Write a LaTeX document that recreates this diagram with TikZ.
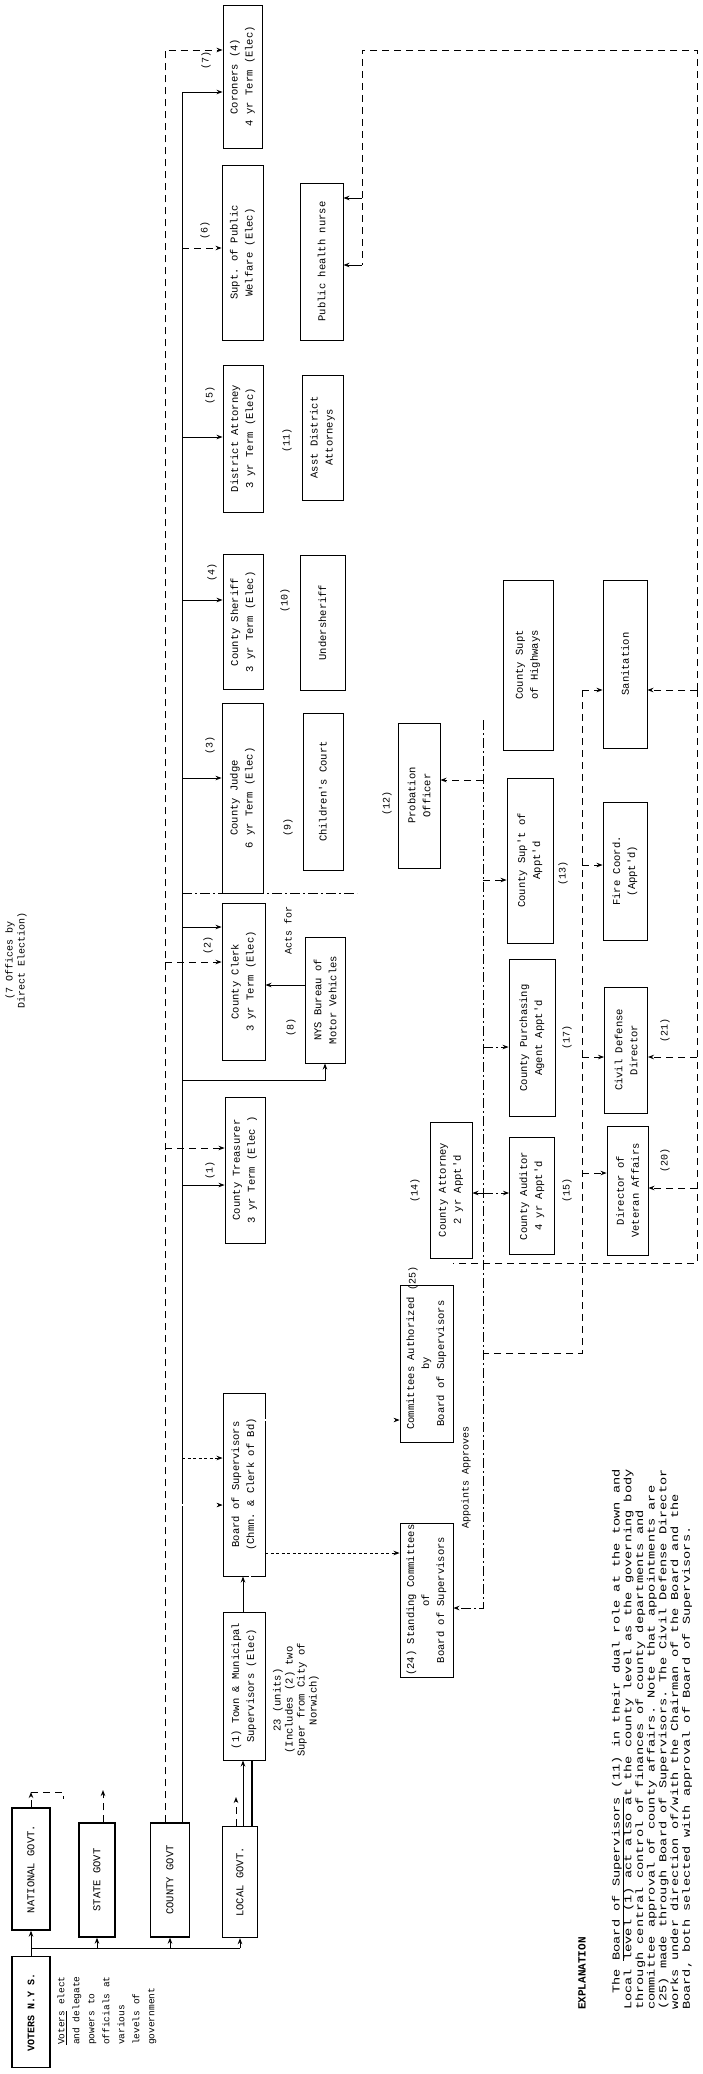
\documentclass[tikz,border=0pt]{standalone}
\usepackage{fontspec}
\setmonofont{Liberation Mono}
\usetikzlibrary{arrows.meta}
\newcommand\RC[3]{\rotatebox{90}{\vbox{\fontsize{#1}{#2}\selectfont\ttfamily\lineskiplimit=-30pt\halign{\hfil##\hfil\cr#3\crcr}}}}
\newcommand\RLf[3]{\rotatebox{90}{\vbox{\fontsize{#1}{#2}\selectfont\ttfamily\lineskiplimit=-30pt\halign{##\hfil\cr#3\crcr}}}}
\newcommand\RLs[4]{\rotatebox{90}{\scalebox{#1}[1]{\vbox{\fontsize{#2}{#3}\selectfont\ttfamily\lineskiplimit=-30pt\halign{##\hfil\cr#4\crcr}}}}}
\newcommand\hy[1]{\coordinate (y#1) at (0,#1);}
\begin{document}
\begin{tikzpicture}[x=1pt,y=-1pt,
 box/.style={draw, line width=0.9pt, inner sep=0pt},
 sz/.style 2 args={minimum width=#1, minimum height=#2},
 lab/.style={inner sep=0pt},
 arr/.style={-{Stealth[length=6pt,width=4.5pt]}},
 ln/.style={line width=0.9pt},
 dsh/.style={line width=0.9pt, dash pattern=on 7pt off 5pt},
 dd/.style={line width=0.9pt, dash pattern=on 10pt off 3pt on 2pt off 3pt},
 dot/.style={line width=1pt, dash pattern=on 3pt off 2.5pt},
 dbl/.style={double, double distance=1.6pt, line width=0.6pt}]
\useasboundingbox (0,0) rectangle (703,2074);
\fill[white] (0,0) rectangle (703,2074);
\foreach \v in {50,92,198,248,265,437,600,690,720,778,780,865,880,893,927,962,985,1047,1057,1080,1148,1173,1185,1188,1193,1263,1353,1420,1458,1505,1553,1608,1948}{\hy{\v}}
\coordinate (L1) at (165,0);
\coordinate (L2) at (182,0);
\coordinate (N1) at (362,0);
\coordinate (M1) at (483,0);
\coordinate (M2) at (582,0);
\coordinate (R1) at (697,0);

% ---- levels of government
\node[box, line width=1.5pt, sz={38}{111}] (voters) at (31,2012) {\RC{10}{12}{\bfseries VOTERS N.Y S.}};
\node[box, line width=1.3pt, sz={38}{122}] (national) at (31,1869) {\RC{10.5}{12}{NATIONAL GOVT.}};
\node[box, line width=1.3pt, sz={36}{114}] (state) at (97,1880) {\RC{10.5}{12}{STATE GOVT}};
\node[box, line width=1.3pt, sz={39}{114}] (county) at (170,1880) {\RC{10.5}{12}{COUNTY GOVT}};
\node[box, line width=1.3pt, sz={35}{111}] (local) at (240,1882) {\RC{10.5}{12}{LOCAL GOVT.}};
\node[lab, anchor=south] (vtext) at (107,2045) {\RLf{9.5}{15}{\underline{Voters} elect\cr and delegate\cr powers to\cr officials at\cr various\cr levels of\cr government}};
\draw[ln] (voters.north) -- (voters.north |- y1948) -- (local.south |- y1948);
\foreach \n in {national,state,county,local}{\draw[ln,arr] (\n.south |- y1948) -- (\n.south);}
\coordinate (natup) at (31,1792);
\coordinate (natr) at (63,1792);
\coordinate (natr2) at (63,1799);
\draw[dsh,arr] (national.north) -- (natup);
\draw[dsh] (natup) -- (natr) -- (natr2);
\coordinate (stup) at (103,1790);
\draw[dsh,arr] ([xshift=6pt]state.north) -- (stup);
\coordinate (locup) at (236,1797);
\draw[dsh,arr] ([xshift=-4pt]local.north) -- (locup);

% ---- town and board
\node[box, sz={42}{148}] (town) at (244,1686) {\RC{10.5}{15}{(1) Town \& Municipal\cr Supervisors (Elec)}};
\node[lab] (units) at (296,1700) {\RC{10.5}{12}{23 (units)\cr (Includes (2) two\cr Super from City of\cr Norwich)}};
\node[box, sz={42}{183}] (board) at (244,1484.5) {\RC{10.5}{15}{Board of Supervisors\cr (Chmn. \& Clerk of Bd)}};
\draw[ln,arr] ([xshift=3pt]local.north) -- ([xshift=3pt]local.north |- town.south);
\draw[line width=2.2pt] ([xshift=12pt]local.north) -- ([xshift=12pt]local.north |- town.south);
\draw[ln,arr] ([xshift=-1pt]town.north) -- ([xshift=-1pt]town.north |- board.south);
\draw[dbl] ([xshift=6pt]town.north) -- ([xshift=6pt]town.north |- board.south);

% ---- directly elected offices
\node[box, sz={39}{143}] (e1) at (242.5,76.5) {\RC{10.5}{15}{Coroners (4)\cr 4 yr Term (Elec)}};
\node[box, sz={41}{175}] (e2) at (242.5,252.5) {\RC{10.5}{15}{Supt. of Public\cr Welfare (Elec)}};
\node[box, sz={40}{147}] (e3) at (243,438.5) {\RC{10.5}{15}{District Attorney\cr 3 yr Term (Elec)}};
\node[box, sz={40}{135}] (e4) at (243,622) {\RC{10.5}{15}{County Sheriff\cr 3 yr Term (Elec)}};
\node[box, sz={41}{190}] (e5) at (242.5,798) {\RC{10.5}{15}{County Judge\cr 6 yr Term (Elec)}};
\node[box, sz={43}{157}] (e6) at (243.5,981.5) {\RC{10.5}{15}{County Clerk\cr 3 yr Term (Elec)}};
\node[box, sz={40}{146}] (e7) at (245,1170) {\RC{10.5}{15}{County Treasurer\cr 3 yr Term (Elec )}};
\node[lab] (le1) at (206,60) {\RC{10}{12}{(7)}};
\node[lab] (le2) at (205,230) {\RC{10}{12}{(6)}};
\node[lab] (le3) at (210,395) {\RC{10}{12}{(5)}};
\node[lab] (le4) at (212,572) {\RC{10}{12}{(4)}};
\node[lab] (le5) at (210,745) {\RC{10}{12}{(3)}};
\node[lab] (le6) at (208,945) {\RC{10}{12}{(2)}};
\node[lab] (le7) at (210,1170) {\RC{10}{12}{(1)}};
\node[lab] (seven) at (16,960) {\RC{10}{12}{(7 Offices by\cr Direct Election)}};

\draw[dsh,arr] ([xshift=-5pt]county.north) -- (L1 |- y50) -- (e1.west |- y50);
\draw[ln,arr] ([xshift=12pt]county.north) -- (L2 |- y92) -- (e1.west |- y92);
\draw[dsh,arr] (L2 |- y248) -- (e2.west |- y248);
\draw[ln,arr] (L2 |- y437) -- (e3.west |- y437);
\draw[ln,arr] (L2 |- y600) -- (e4.west |- y600);
\draw[ln,arr] (L2 |- y778) -- (e5.west |- y778);
\draw[ln,arr] (L2 |- y927) -- (e6.west |- y927);
\draw[dsh,arr] (L1 |- y962) -- (e6.west |- y962);
\draw[dsh,arr] (L1 |- y1148) -- (e7.west |- y1148);
\draw[ln,arr] (L2 |- y1185) -- (e7.west |- y1185);
\draw[dbl,arr] (L2 |- y1505) -- (board.west |- y1505);
\draw[dot,arr] (L2 |- y1458) -- (board.west |- y1458);
\coordinate (sep) at (357,893);
\draw[dd] (L2 |- y893) -- (sep);

% ---- second column
\node[box, sz={43}{157}] (nurse) at (321.5,261.5) {\RC{10.5}{15}{Public health nurse}};
\node[box, sz={41}{125}] (f11) at (322.5,437.5) {\RC{10.5}{15}{Asst District\cr Attorneys}};
\node[box, sz={45}{135}] (f10) at (322.5,622.5) {\RC{10.5}{15}{Undersheriff}};
\node[box, sz={40}{157}] (f9) at (323,791.5) {\RC{10.5}{15}{Children's Court}};
\node[box, sz={40}{126}] (f8) at (325,1000) {\RC{10.5}{15}{NYS Bureau of\cr Motor Vehicles}};
\node[lab] (lf11) at (287,440) {\RC{10}{12}{(11)}};
\node[lab] (lf10) at (285,600) {\RC{10}{12}{(10)}};
\node[lab] (lf9) at (288,827) {\RC{10}{12}{(9)}};
\node[lab] (lf8) at (291,1027) {\RC{10}{12}{(8)}};
\node[lab] (acts) at (288,930) {\RC{10}{12}{Acts for}};
\draw[dsh] (R1 |- y690) -- (R1 |- y50) -- (N1 |- y50) -- (N1 |- y265);
\draw[ln,arr] (N1 |- y198) -- (nurse.east |- y198);
\draw[ln,arr] (N1 |- y265) -- (nurse.east |- y265);
\draw[ln,arr] (L2 |- y1080) -- (f8.south |- y1080) -- (f8.south);
\draw[ln,arr] (f8.west |- y985) -- (e6.east |- y985);

% ---- committees
\node[box, sz={53}{157}] (cauth) at (426.5,1363.5) {\RC{10.5}{15}{Committees Authorized\cr by\cr Board of Supervisors}};
\node[box, sz={53}{154}] (stand) at (426.5,1600) {\RC{10.5}{15}{(24) Standing Committees\cr of\cr Board of Supervisors}};
\node[lab] (lc) at (413,1278) {\RC{10}{12}{(25)}};
\node[lab] (appr) at (466,1477) {\RC{10}{12}{Appoints Approves}};
\draw[dbl,arr] (board.east |- y1420) -- (cauth.west |- y1420);
\draw[dot,arr] (board.east |- y1553) -- (stand.west |- y1553);

% ---- appointed offices
\node[box, sz={42}{145}] (prob) at (419,795.5) {\RC{10.5}{15}{Probation\cr Officer}};
\node[box, sz={50}{170}] (h1) at (528,665) {\RC{10.5}{15}{County Supt\cr of Highways}};
\node[box, sz={46}{165}] (h2) at (530,860.5) {\RC{10.5}{15}{County Sup't of\cr Appt'd}};
\node[box, sz={44}{168}] (i1) at (625,664) {\RC{10.5}{15}{Sanitation}};
\node[box, sz={44}{138}] (i2) at (625,871) {\RC{10.5}{15}{Fire Coord.\cr (Appt'd)}};
\node[box, sz={46}{157}] (purch) at (532,1038) {\RC{10.5}{15}{County Purchasing\cr Agent Appt'd}};
\node[box, sz={45}{117}] (auditor) at (532,1196) {\RC{10.5}{15}{County Auditor\cr 4 yr Appt'd}};
\node[box, sz={42}{136}] (attorney) at (451,1190) {\RC{10.5}{15}{County Attorney\cr 2 yr Appt'd}};
\node[box, sz={43}{126}] (civil) at (626,1050) {\RC{10.5}{15}{Civil Defense\cr Director}};
\node[box, sz={41}{129}] (veteran) at (627.5,1190.5) {\RC{10.5}{15}{Director of\cr Veteran Affairs}};
\node[lab] (lprob) at (387,803) {\RC{10}{12}{(12)}};
\node[lab] (lh2) at (563,873) {\RC{10}{12}{(13)}};
\node[lab] (lpurch) at (567,1037) {\RC{10}{12}{(17)}};
\node[lab] (laud) at (567,1190) {\RC{10}{12}{(15)}};
\node[lab] (latt) at (415,1190) {\RC{10}{12}{(14)}};
\node[lab] (lciv) at (665,1030) {\RC{10}{12}{(21)}};
\node[lab] (lvet) at (665,1160) {\RC{10}{12}{(20)}};

\draw[dd,arr] (M1 |- y720) -- (M1 |- y1608) -- (stand.east |- y1608);
\draw[dsh,arr] (M1 |- y780) -- (prob.east |- y780);
\draw[dsh,arr] (M1 |- y880) -- (h2.west |- y880);
\draw[dd,arr] (M1 |- y1047) -- (purch.west |- y1047);
\draw[dd,arr] (M1 |- y1193) -- (attorney.east |- y1193);
\draw[dd,arr] (M1 |- y1193) -- (auditor.west |- y1193);
\draw[dsh] (M2 |- y690) -- (M2 |- y1353) -- (M1 |- y1353);
\draw[dsh,arr] (M2 |- y690) -- (i1.west |- y690);
\draw[dsh,arr] (M2 |- y865) -- (i2.west |- y865);
\draw[dsh,arr] (M2 |- y1057) -- (civil.west |- y1057);
\draw[dsh,arr] (M2 |- y1173) -- (veteran.west |- y1173);
\draw[dsh] (R1 |- y690) -- (R1 |- y1263) -- (cauth.east |- y1263);
\draw[dsh,arr] (R1 |- y690) -- (i1.east |- y690);
\draw[dsh,arr] (R1 |- y1057) -- (civil.east |- y1057);
\draw[dsh,arr] (R1 |- y1188) -- (veteran.east |- y1188);

% ---- explanation
\node[lab, anchor=south] (expl) at (582,2010) {\RC{11}{12}{\bfseries EXPLANATION}};
\node[lab, anchor=south] (expltext) at (652,2010) {\RLs{1.3}{10.5}{11.7}{\ \ The \underline{Board of Supervisors} (11) in their dual role at the town and\cr Local level (1) act also at the county level as the governing body\cr through central control of finances of county departments and\cr committee approval of county affairs. Note that appointments are\cr (25) made through Board of Supervisors. The Civil Defense Director\cr works under direction of/with the Chairman of the Board and the\cr Board, both selected with approval of Board of Supervisors.}};
\end{tikzpicture}
\end{document}
